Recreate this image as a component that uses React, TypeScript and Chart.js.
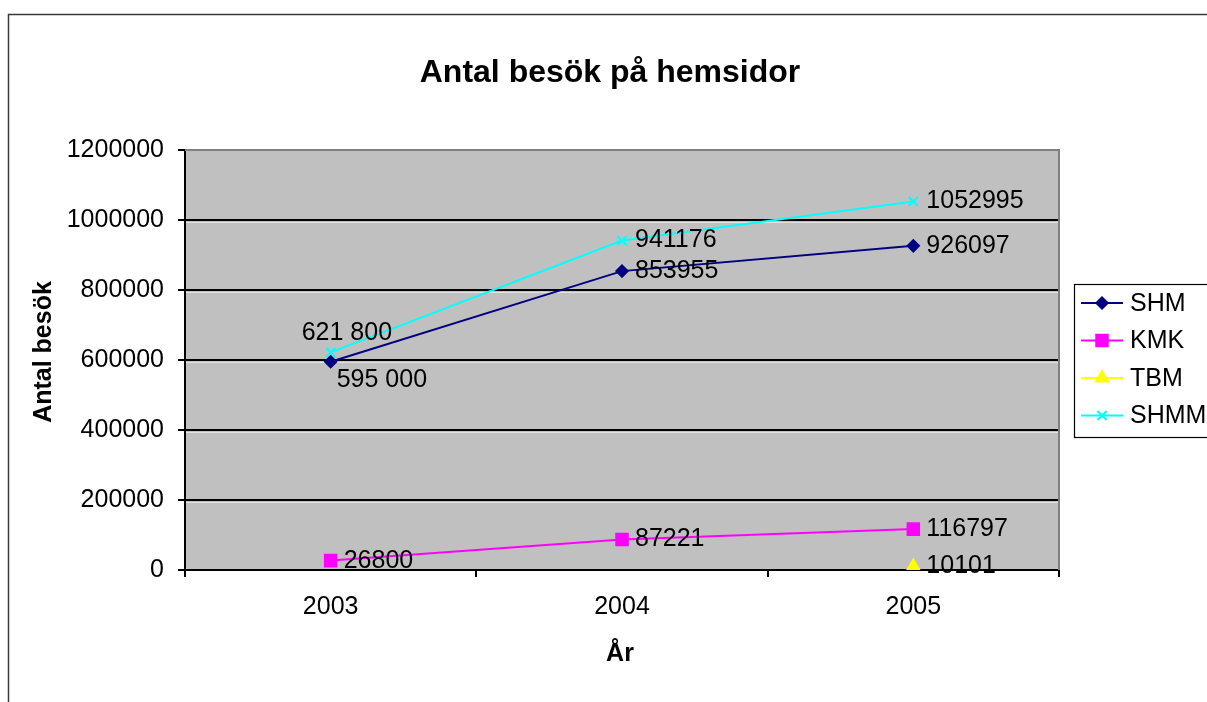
import React, { useEffect, useRef } from "react";
import { Chart, registerables } from "chart.js";
import { drawPoint } from "chart.js/helpers";

Chart.register(...registerables);

const categories = ["2003", "2004", "2005"];
const shmValues = [595000, 853955, 926097];
const kmkValues = [26800, 87221, 116797];
const tbmValues: (number | null)[] = [null, null, 10101];
const shmmValues = [621800, 941176, 1052995];

const shmLabels = ["595 000", "853955", "926097"];
const kmkLabels = ["26800", "87221", "116797"];
const tbmLabels: (string | null)[] = [null, null, "10101"];
const shmmLabels = ["621 800", "941176", "1052995"];

const seriesNames = ["SHM", "KMK", "TBM", "SHMM"];
const titleText = "Antal besök på hemsidor";
const yTitle = "Antal besök";
const xTitle = "År";

const FONT = "'Liberation Sans', Arial, sans-serif";

export default function App() {
  const ref = useRef<HTMLCanvasElement | null>(null);

  useEffect(() => {
    if (!ref.current) return;
    document.documentElement.style.overflow = "hidden";
    const allLabels = [shmLabels, kmkLabels, tbmLabels, shmmLabels];
    const placement: Record<string, string> = { "3-0": "above", "0-0": "below" };

    const decor = {
      id: "decor",
      beforeDraw(chart: any) {
        const { ctx, chartArea: a } = chart;
        ctx.save();
        ctx.fillStyle = "#c0c0c0";
        ctx.fillRect(a.left, a.top, a.right - a.left, a.bottom - a.top);
        ctx.restore();
      },
      beforeDatasetsDraw(chart: any) {
        const { ctx, chartArea: a } = chart;
        const y = chart.scales.y;
        ctx.save();
        ctx.strokeStyle = "#e2e2e2";
        ctx.lineWidth = 1;
        y.ticks.forEach((t: any) => {
          if (t.value <= 0 || t.value >= 1200000) return;
          const py = Math.round(y.getPixelForValue(t.value)) + 2.5;
          ctx.beginPath();
          ctx.moveTo(a.left + 1, py);
          ctx.lineTo(a.right - 1, py);
          ctx.stroke();
        });
        ctx.strokeStyle = "#808080";
        ctx.lineWidth = 2;
        ctx.beginPath();
        ctx.moveTo(a.left, a.top);
        ctx.lineTo(a.right, a.top);
        ctx.lineTo(a.right, a.bottom);
        ctx.stroke();
        ctx.restore();
      },
      afterDatasetsDraw(chart: any) {
        const { ctx } = chart;
        ctx.save();
        ctx.font = `25px ${FONT}`;
        ctx.fillStyle = "#000";
        ctx.textBaseline = "middle";
        ctx.textAlign = "left";
        chart.data.datasets.forEach((ds: any, di: number) => {
          const meta = chart.getDatasetMeta(di);
          meta.data.forEach((pt: any, i: number) => {
            const txt = allLabels[di][i];
            if (txt == null || ds.data[i] == null) return;
            const p = placement[`${di}-${i}`] || "right";
            let x = pt.x + 13;
            let yy = pt.y;
            if (p === "above") {
              x = pt.x - 29;
              yy = pt.y - 19;
            } else if (p === "below") {
              x = pt.x + 6;
              yy = pt.y + 18;
            }
            ctx.fillText(txt, x, yy);
          });
        });
        ctx.restore();
      },
      afterDraw(chart: any) {
        const { ctx } = chart;
        ctx.save();
        ctx.strokeStyle = "#3a3a3a";
        ctx.lineWidth = 1.5;
        ctx.beginPath();
        ctx.moveTo(8.5, 702);
        ctx.lineTo(8.5, 14.5);
        ctx.lineTo(1207, 14.5);
        ctx.stroke();
        ctx.fillStyle = "#000";
        ctx.font = `bold 32px ${FONT}`;
        ctx.textAlign = "center";
        ctx.textBaseline = "alphabetic";
        ctx.fillText(titleText, 610, 82);
        ctx.font = `bold 25px ${FONT}`;
        ctx.fillText(xTitle, 620, 661);
        ctx.save();
        ctx.translate(51, 352);
        ctx.rotate(-Math.PI / 2);
        ctx.fillText(yTitle, 0, 0);
        ctx.restore();
        ctx.strokeStyle = "#000";
        ctx.lineWidth = 1.2;
        ctx.strokeRect(1074.5, 284.5, 200, 153);
        ctx.font = `25px ${FONT}`;
        ctx.textAlign = "left";
        ctx.textBaseline = "middle";
        chart.data.datasets.forEach((ds: any, di: number) => {
          const ry = 303 + di * 37.5;
          ctx.strokeStyle = ds.borderColor;
          ctx.lineWidth = 2;
          ctx.beginPath();
          ctx.moveTo(1081, ry);
          ctx.lineTo(1123, ry);
          ctx.stroke();
          ctx.fillStyle = ds.pointBackgroundColor;
          ctx.strokeStyle = ds.pointBorderColor;
          ctx.lineWidth = ds.pointBorderWidth;
          drawPoint(ctx, { pointStyle: ds.pointStyle, rotation: 0, borderWidth: ds.pointBorderWidth, radius: ds.pointRadius }, 1102, ry);
          ctx.fillStyle = "#000";
          ctx.fillText(seriesNames[di], 1130, ry + 1);
        });
        ctx.restore();
      },
    };

    const mk = (label: string, data: any[], color: string, style: string, r: number, bw: number) => ({
      label,
      data,
      borderColor: color,
      backgroundColor: color,
      pointBackgroundColor: color,
      pointBorderColor: color,
      pointStyle: style,
      pointRadius: r,
      pointBorderWidth: bw,
      borderWidth: 2,
      tension: 0,
      spanGaps: false,
    });

    const chart = new Chart(ref.current, {
      type: "line",
      data: {
        labels: categories,
        datasets: [
          mk(seriesNames[0], shmValues, "#000080", "rectRot", 6, 1.5),
          mk(seriesNames[1], kmkValues, "#ff00ff", "rect", 8.5, 1.5),
          mk(seriesNames[2], tbmValues, "#ffff00", "triangle", 7.5, 1.5),
          mk(seriesNames[3], shmmValues, "#00ffff", "crossRot", 6.5, 2.2),
        ] as any,
      },
      options: {
        responsive: false,
        animation: false,
        layout: { padding: { left: 0, top: 150, right: 148, bottom: 0 } },
        plugins: {
          legend: { display: false },
          title: { display: false },
          tooltip: { enabled: false },
        },
        scales: {
          x: {
            type: "category",
            offset: true,
            grid: {
              offset: true,
              drawOnChartArea: false,
              drawTicks: true,
              tickLength: 7,
              color: "#000",
              lineWidth: 2,
            },
            border: { display: true, color: "#000", width: 2 },
            ticks: { color: "#000", font: { family: FONT, size: 25 }, padding: 15, maxRotation: 0 },
            afterFit: (s: any) => {
              s.height = 132;
            },
          } as any,
          y: {
            min: 0,
            max: 1200000,
            grid: {
              color: (c: any) => (c.tick && c.tick.value >= 1200000 ? "#808080" : "#000"),
              tickColor: "#000",
              lineWidth: 2,
              tickLength: 7,
            },
            border: { display: true, color: "#000", width: 2 },
            ticks: {
              stepSize: 200000,
              color: "#000",
              font: { family: FONT, size: 25 },
              padding: 14,
              callback: (v: any) => String(v),
            },
            afterFit: (s: any) => {
              s.width = 185;
            },
          } as any,
        },
      },
      plugins: [decor],
    });
    return () => chart.destroy();
  }, []);

  return (
    <canvas
      ref={ref}
      width={1207}
      height={702}
      style={{ position: "fixed", left: 0, top: 0, display: "block", width: 1207, height: 702 }}
    />
  );
}
